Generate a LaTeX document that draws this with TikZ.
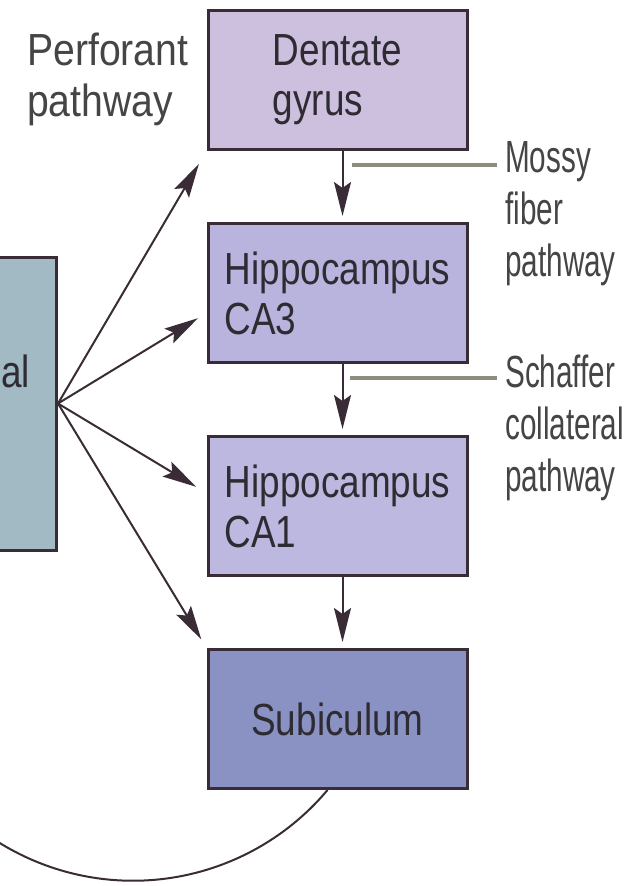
\documentclass[tikz,border=0pt]{standalone}
\usepackage{fontspec}
\setmainfont{Liberation Sans}
\newfontfamily\boxfont[FakeStretch=0.82]{Liberation Sans}
\newfontfamily\perffont[FakeStretch=0.87]{Liberation Sans}
\newfontfamily\sidefont[FakeStretch=0.66]{Liberation Sans}
\usetikzlibrary{arrows.meta,positioning}
\definecolor{dgfill}{HTML}{CCC0DE}
\definecolor{cathree}{HTML}{B8B4DD}
\definecolor{caone}{HTML}{BCB8DF}
\definecolor{subfill}{HTML}{8A92C4}
\definecolor{entofill}{HTML}{A2BAC4}
\definecolor{edge}{HTML}{3A2C36}
\definecolor{ink}{HTML}{2F2B33}
\definecolor{labelink}{HTML}{454545}
\definecolor{pointergray}{HTML}{8E8B80}
\begin{document}
\begin{tikzpicture}[x=1pt,y=-1pt,
node distance=71pt,
region/.style={draw=edge,line width=3pt,minimum width=259pt,minimum height=139pt,
  inner sep=0pt,align=left,text=ink,font=\boxfont\fontsize{45}{50}\selectfont},
sidelabel/.style={anchor=north west,inner xsep=8pt,inner ysep=0pt,align=left,
  text=labelink,font=\sidefont\fontsize{45}{52}\selectfont},
fan/.style={draw=edge,line width=2pt,-{Stealth[length=34pt,width=17pt,inset=6pt]}},
pointer/.style={draw=pointergray,line width=4pt}
]
\useasboundingbox (0,0) rectangle (635,886);
\clip (0,0) rectangle (635,886);
\fill[white] (0,0) rectangle (635,886);
% hippocampal loop
\node[region,fill=dgfill] (dg) at (337.5,80) {Dentate\\gyrus};
\node[region,fill=cathree,below=of dg] (ca3) {Hippocampus\\CA3};
\node[region,fill=caone,below=of ca3] (ca1) {Hippocampus\\CA1};
\node[region,fill=subfill,below=of ca1] (sub) {Subiculum};
% cortex box, cut by the left edge
\node[draw=edge,line width=3pt,fill=entofill,anchor=east,minimum width=120pt,
  minimum height=293pt] (ento) at (58,403.5) {};
\node[anchor=base east,inner sep=0pt,text=ink,font=\boxfont\fontsize{45}{50}\selectfont]
  (entotext) at (30,387) {al};
\node[anchor=north west,inner sep=0pt,align=left,text=labelink,
  font=\perffont\fontsize{45}{51}\selectfont] (perf) at (27,33) {Perforant\\pathway};
\node[sidelabel] (mossy) at (497,141) {Mossy\\fiber\\pathway};
\node[sidelabel] (schaffer) at (497,355) {Schaffer\\collateral\\pathway};
% perforant fan
\draw[fan,shorten >=15pt] (ento.east) -- (dg.south west);
\draw[fan,shorten >=10pt] (ento.east) -- ([shift={(0,20)}]ca3.west);
\draw[fan,shorten >=12pt] (ento.east) -- ([shift={(0,-13)}]ca1.west);
\draw[fan,shorten >=10pt] (ento.east) -- (sub.north west);
% trisynaptic chain
\draw[fan,shorten >=6pt] ([xshift=5pt]dg.south) -- ([xshift=5pt]ca3.north);
\draw[fan,shorten >=6pt] ([xshift=5pt]ca3.south) -- ([xshift=5pt]ca1.north);
\draw[fan,shorten >=6pt] ([xshift=5pt]ca1.south) -- ([xshift=5pt]sub.north);
\coordinate (mossyfoot) at (352,165);
\coordinate (schafferfoot) at (350,378);
\draw[pointer] (mossyfoot) -- (mossyfoot -| mossy.west);
\draw[pointer] (schafferfoot) -- (schafferfoot -| schaffer.west);
% back projection
\draw[edge,line width=2pt] ([xshift=-10pt]sub.south) arc[start angle=40,end angle=135,radius=254];
\end{tikzpicture}
\end{document}
